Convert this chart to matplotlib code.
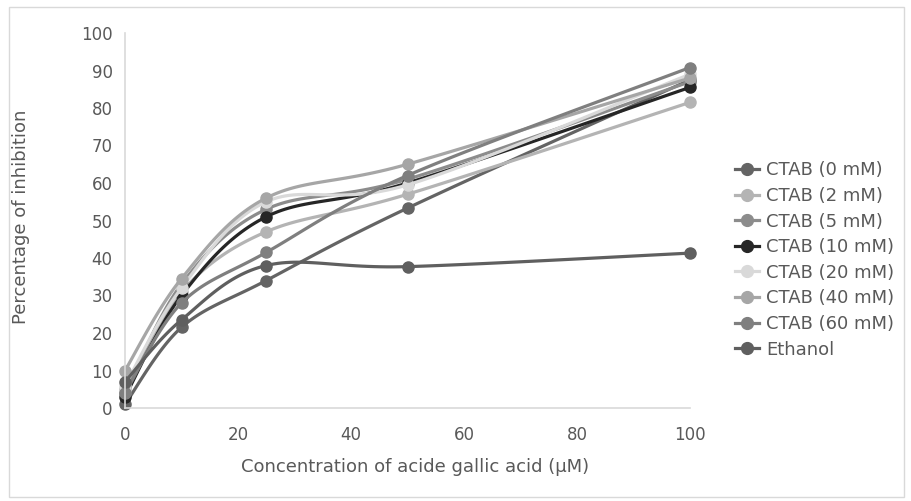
import numpy as np
import matplotlib
matplotlib.use("Agg")
import matplotlib.pyplot as plt
from matplotlib.patches import Rectangle

# Data
conc = [0, 10, 25, 50, 100]
labels = ["CTAB (0 mM)", "CTAB (2 mM)", "CTAB (5 mM)", "CTAB (10 mM)",
          "CTAB (20 mM)", "CTAB (40 mM)", "CTAB (60 mM)", "Ethanol"]
ctab_0 = [1.0, 21.5, 34.0, 53.3, 87.5]
ctab_2 = [5.0, 31.0, 47.0, 57.0, 81.5]
ctab_5 = [4.0, 33.0, 53.0, 61.0, 87.0]
ctab_10 = [3.0, 30.0, 51.0, 60.0, 85.5]
ctab_20 = [6.0, 32.0, 55.0, 59.5, 89.0]
ctab_40 = [10.0, 34.5, 56.0, 65.0, 88.0]
ctab_60 = [4.0, 28.0, 41.5, 62.0, 90.8]
ethanol = [7.0, 23.5, 38.0, 37.7, 41.3]

series = [ctab_0, ctab_2, ctab_5, ctab_10, ctab_20, ctab_40, ctab_60, ethanol]
colors = ["#646464", "#b4b4b4", "#8c8c8c", "#262626",
          "#d9d9d9", "#a6a6a6", "#7f7f7f", "#5f5f5f"]


def smooth(x, y, n=30):
    # Excel-like smoothed line (Catmull-Rom as cubic Bezier)
    x = np.asarray(x, float)
    y = np.asarray(y, float)
    px = np.concatenate([[x[0]], x, [x[-1]]])
    py = np.concatenate([[y[0]], y, [y[-1]]])
    xs, ys = [], []
    t = np.linspace(0, 1, n)
    for i in range(1, len(px) - 2):
        p0 = np.array([px[i], py[i]])
        p3 = np.array([px[i + 1], py[i + 1]])
        c1 = p0 + (np.array([px[i + 1], py[i + 1]]) - np.array([px[i - 1], py[i - 1]])) / 6
        c2 = p3 - (np.array([px[i + 2], py[i + 2]]) - np.array([px[i], py[i]])) / 6
        b = ((1 - t) ** 3)[:, None] * p0 + (3 * (1 - t) ** 2 * t)[:, None] * c1 \
            + (3 * (1 - t) * t ** 2)[:, None] * c2 + (t ** 3)[:, None] * p3
        xs.extend(b[:, 0])
        ys.extend(b[:, 1])
    return np.array(xs), np.array(ys)


plt.rcParams['font.family'] = ['DejaVu Sans']

fig = plt.figure(figsize=(9.11, 5.01), dpi=100)
ax = fig.add_axes([125 / 911, 93 / 501, 565 / 911, 375 / 501])

# light border around the chart area
fig.patches.append(Rectangle((9 / 911, 4 / 501), 895 / 911, 490 / 501, transform=fig.transFigure,
                             fill=False, edgecolor="#d9d9d9", linewidth=1))

for vals, lab, col in zip(series, labels, colors):
    sx, sy = smooth(conc, vals)
    ax.plot(sx, sy, color=col, linewidth=2.3, solid_capstyle="round", clip_on=False)
    ax.plot(conc, vals, "o", color=col, markersize=8, clip_on=False)

# legend handles: line + marker
handles = [plt.Line2D([], [], color=c, marker="o", markersize=8.5, linewidth=2.3)
           for c in colors]
fig.legend(handles, labels, loc="center left", bbox_to_anchor=(719 / 911, 0.481),
           frameon=False, fontsize=13, handlelength=1.3, handletextpad=0.4,
           labelspacing=0.42, labelcolor="#595959")

ax.set_xlim(0, 100)
ax.set_ylim(0, 100)
ax.set_xticks(np.arange(0, 101, 20))
ax.set_yticks(np.arange(0, 101, 10))
ax.tick_params(length=0, labelsize=12, colors="#595959")
ax.tick_params(axis="y", pad=9)
ax.tick_params(axis="x", pad=13)
for s in ["top", "right"]:
    ax.spines[s].set_visible(False)
for s in ["left", "bottom"]:
    ax.spines[s].set_color("#d9d9d9")
    ax.spines[s].set_linewidth(1.2)

ax.set_xlabel("Concentration of acide gallic acid (µM)", fontsize=13, color="#595959")
ax.set_ylabel("Percentage of inhibition", fontsize=13, color="#595959")
ax.xaxis.set_label_coords(0.513, -0.133)
ax.yaxis.set_label_coords(-0.168, 0.51)

fig.savefig("out.png", dpi=100)
